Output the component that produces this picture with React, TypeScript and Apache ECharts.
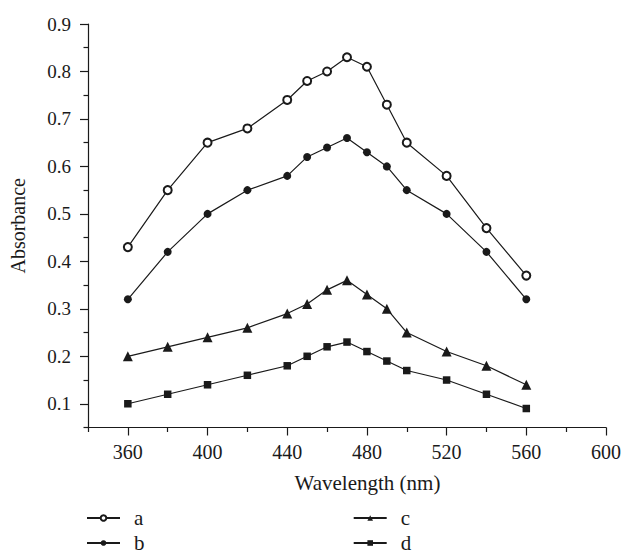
import React, { useEffect, useRef } from "react";
import * as echarts from "echarts";

const wavelengths = [360, 380, 400, 420, 440, 450, 460, 470, 480, 490, 500, 520, 540, 560];
const seriesA = [0.43, 0.55, 0.65, 0.68, 0.74, 0.78, 0.8, 0.83, 0.81, 0.73, 0.65, 0.58, 0.47, 0.37];
const seriesB = [0.32, 0.42, 0.5, 0.55, 0.58, 0.62, 0.64, 0.66, 0.63, 0.6, 0.55, 0.5, 0.42, 0.32];
const seriesC = [0.2, 0.22, 0.24, 0.26, 0.29, 0.31, 0.34, 0.36, 0.33, 0.3, 0.25, 0.21, 0.18, 0.14];
const seriesD = [0.1, 0.12, 0.14, 0.16, 0.18, 0.2, 0.22, 0.23, 0.21, 0.19, 0.17, 0.15, 0.12, 0.09];

const xMajorTicks = [360, 400, 440, 480, 520, 560, 600];
const xMinorTicks = [340, 380, 420, 460, 500, 540, 580];
const yMajorTicks = [0.1, 0.2, 0.3, 0.4, 0.5, 0.6, 0.7, 0.8, 0.9];
const yMinorTicks = [0.05, 0.15, 0.25, 0.35, 0.45, 0.55, 0.65, 0.75, 0.85];

const FONT = "'Liberation Serif', 'DejaVu Serif', serif";
const INK = "#1a1a1a";

export default function App() {
  const ref = useRef<HTMLDivElement>(null);
  useEffect(() => {
    if (!ref.current) return;
    const chart = echarts.init(ref.current, undefined, { renderer: "svg" });
    const pts = (vals: number[]) => wavelengths.map((w, i) => [w, vals[i]]);
    const lineStyle = { color: INK, width: 1.2 };
    const font = (size: number) => ({ fontFamily: FONT, fontSize: size, color: INK });
    const legendBase = {
      orient: "horizontal",
      padding: 0,
      itemWidth: 33,
      itemHeight: 7,
      textStyle: { ...font(21), lineHeight: 14, padding: [0, 0, 0, 9] },
    };
    chart.setOption({
      animation: false,
      backgroundColor: "#fff",
      grid: { left: 85, right: 18, top: 24, bottom: 126.5, containLabel: false },
      xAxis: [
        {
          type: "value",
          min: 340,
          max: 600,
          interval: 20,
          position: "bottom",
          name: "Wavelength (nm)",
          nameLocation: "middle",
          nameGap: 45,
          nameTextStyle: { ...font(21), padding: [0, 0, 0, 41], verticalAlign: "top" },
          axisLine: { show: true, lineStyle: { color: INK, width: 1.2 } },
          axisTick: { show: true, inside: false, length: 8, customValues: xMajorTicks, lineStyle: { color: INK, width: 1.2 } },
          axisLabel: { ...font(20), margin: 14, customValues: xMajorTicks, formatter: (v: number) => String(v) },
          splitLine: { show: false },
        },
        {
          type: "value",
          min: 340,
          max: 600,
          interval: 20,
          position: "bottom",
          axisLine: { show: false },
          axisTick: { show: true, inside: false, length: 4.5, customValues: xMinorTicks, lineStyle: { color: INK, width: 1.2 } },
          axisLabel: { show: false },
          splitLine: { show: false },
        },
      ],
      yAxis: [
        {
          type: "value",
          min: 0.05,
          max: 0.9,
          position: "left",
          name: "Absorbance",
          nameLocation: "middle",
          nameGap: 60,
          nameTextStyle: font(20),
          axisLine: { show: true, lineStyle: { color: INK, width: 1.2 } },
          axisTick: { show: true, inside: false, length: 8, customValues: yMajorTicks, lineStyle: { color: INK, width: 1.2 } },
          axisLabel: { ...font(19), margin: 17, customValues: yMajorTicks, formatter: (v: number) => v.toFixed(1) },
          splitLine: { show: false },
        },
        {
          type: "value",
          min: 0.05,
          max: 0.9,
          position: "left",
          axisLine: { show: false },
          axisTick: { show: true, inside: false, length: 4.5, customValues: yMinorTicks, lineStyle: { color: INK, width: 1.2 } },
          axisLabel: { show: false },
          splitLine: { show: false },
        },
      ],
      legend: [
        { ...legendBase, data: ["a"], left: 86, bottom: 25.5 },
        { ...legendBase, data: ["b"], left: 86, bottom: 0.5 },
        { ...legendBase, data: ["c"], left: 352.7, bottom: 25.5 },
        { ...legendBase, data: ["d"], left: 352.7, bottom: 0.5 },
      ],
      series: [
        {
          name: "a",
          type: "line",
          data: pts(seriesA),
          symbol: "emptyCircle",
          symbolSize: 8,
          color: INK,
          lineStyle,
          itemStyle: { color: INK, borderColor: INK, borderWidth: 1.2 },
        },
        {
          name: "b",
          type: "line",
          data: pts(seriesB),
          symbol: "circle",
          symbolSize: 8,
          color: INK,
          lineStyle,
          itemStyle: { color: INK },
        },
        {
          name: "c",
          type: "line",
          data: pts(seriesC),
          symbol: "triangle",
          symbolSize: 10,
          color: INK,
          lineStyle,
          itemStyle: { color: INK },
        },
        {
          name: "d",
          type: "line",
          data: pts(seriesD),
          symbol: "rect",
          symbolSize: 7.5,
          color: INK,
          lineStyle,
          itemStyle: { color: INK },
        },
      ],
    });
    return () => chart.dispose();
  }, []);
  return (
    <div
      ref={ref}
      style={{ position: "fixed", left: 0, top: 0, width: 624, height: 554, background: "#fff" }}
    />
  );
}
